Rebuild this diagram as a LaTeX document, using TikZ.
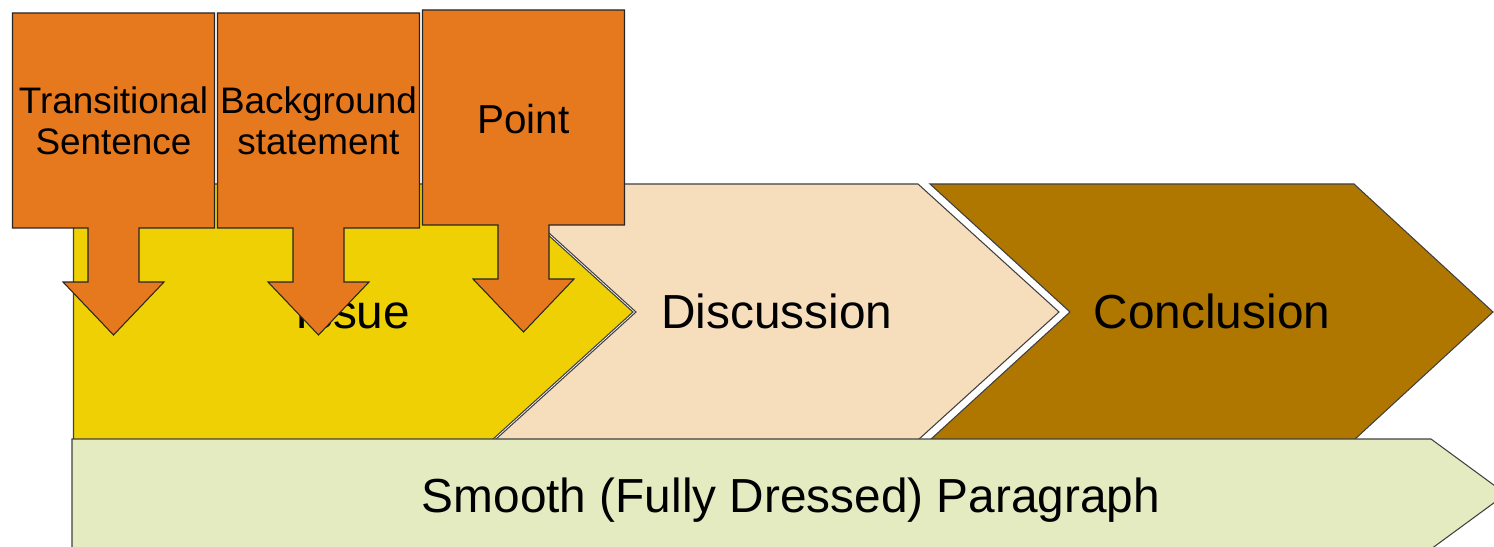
\documentclass[tikz,border=0pt]{standalone}
\usepackage{fontspec}
\setmainfont{Liberation Sans}
\usetikzlibrary{calc}
\definecolor{orangebox}{HTML}{E6781E}
\definecolor{issuecol}{HTML}{EFD004}
\definecolor{disccol}{HTML}{F6DEBD}
\definecolor{conccol}{HTML}{AF7700}
\definecolor{barcol}{HTML}{E5EBC0}
\newcommand\drawcallout[1]{%
  \filldraw[callshape, shift={(#1)}] (-101,-107.5) -- (101,-107.5) -- (101,107.5)
    -- (25.5,107.5) -- (25.5,161.5) -- (50.5,161.5) -- (0,214.5) -- (-50.5,161.5)
    -- (-25.5,161.5) -- (-25.5,107.5) -- (-101,107.5) -- cycle;}
\begin{document}
\begin{tikzpicture}[x=0.02cm,y=-0.02cm,
  chev/.style={draw=black!75, line width=0.6pt, line join=miter},
  callshape/.style={fill=orangebox, draw=black!85, line width=0.6pt},
  bigtext/.style={font=\fontsize{27.2}{31}\selectfont, text=black, inner sep=0pt},
  calltext/.style={font=\fontsize{21}{23.3}\selectfont, align=center, inner sep=0pt}]
\clip (0,0) rectangle (1494,547);
% chevrons
\filldraw[chev, fill=issuecol] (73.5,184) -- (492,184) -- (633,312) -- (492,440) -- (73.5,440) -- cycle;
\filldraw[chev, fill=disccol] (495,184) -- (918,184) -- (1059,312) -- (918,440) -- (495,440) -- (636,312) -- cycle;
\filldraw[chev, fill=conccol] (930,184) -- (1354,184) -- (1493,312) -- (1354,440) -- (930,440) -- (1070,312) -- cycle;
\filldraw[chev, fill=barcol] (72,439) -- (1431,439) -- (1506,494) -- (1431,549) -- (72,549) -- cycle;
% chevron texts
\node[bigtext, anchor=base] (issue) at (353,328) {Issue};
\node[bigtext, anchor=base] (disc) at (777,328) {Discussion};
\node[bigtext, anchor=base] (conc) at (1212,328) {Conclusion};
\node[bigtext, anchor=base] (smooth) at (791,512) {Smooth (Fully Dressed) Paragraph};
% callouts
\coordinate (c1) at (113.5,120.5);
\coordinate (c2) at (318.5,120.5);
\coordinate (c3) at (523.5,117.5);
\drawcallout{c1}
\drawcallout{c2}
\drawcallout{c3}
\node[calltext] (ts) at (c1) {Transitional\\Sentence};
\node[calltext] (bs) at (c2) {Background\\statement};
\node[calltext, font=\fontsize{23}{26}\selectfont] (pt) at (523.5,119) {Point};
\end{tikzpicture}
\end{document}
